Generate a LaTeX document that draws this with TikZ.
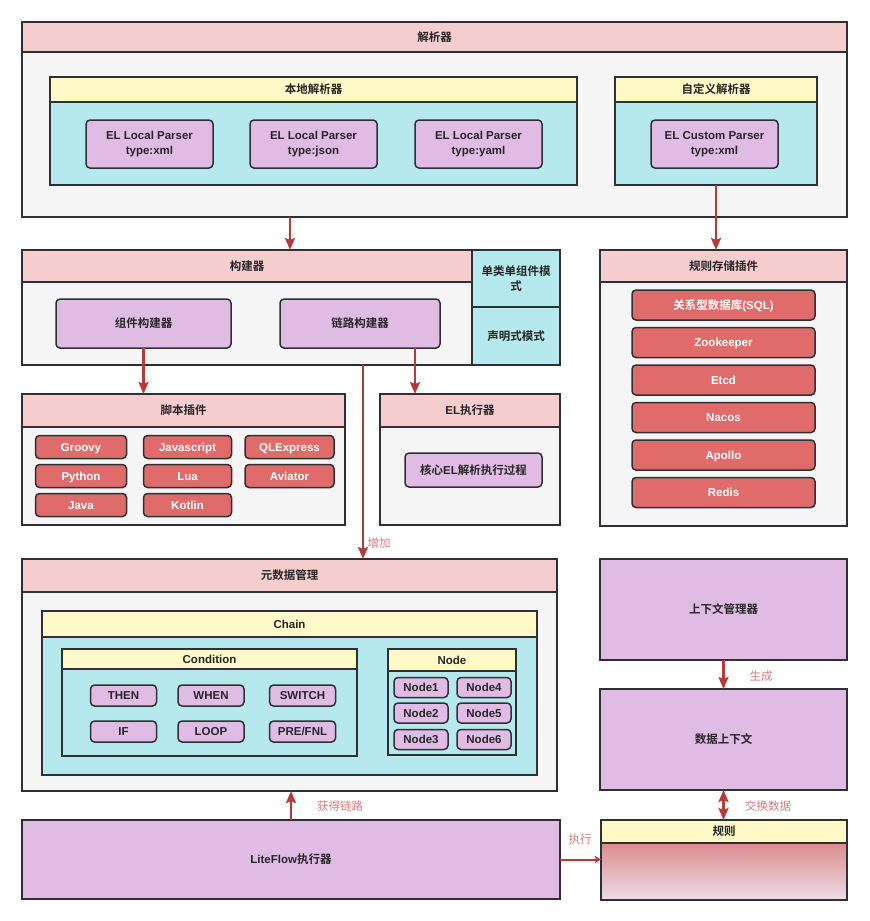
\documentclass[tikz,border=0pt]{standalone}
\usepackage{fontspec}
\setmainfont{Liberation Sans}
\newfontfamily\cjk{Noto Sans CJK SC}[BoldFont={Noto Sans CJK SC Bold}]
\newcommand\zh[1]{{\cjk #1}}
\usetikzlibrary{arrows.meta}

\definecolor{headpink}{HTML}{F6CDCF}
\definecolor{bodygrey}{HTML}{F5F5F5}
\definecolor{headyellow}{HTML}{FEF9C6}
\definecolor{bodycyan}{HTML}{B5E9EE}
\definecolor{boxpurple}{HTML}{E0BCE5}
\definecolor{btnred}{HTML}{E06B6B}
\definecolor{linegrey}{HTML}{2F3033}
\definecolor{arrowred}{HTML}{B63A3A}
\definecolor{labelred}{HTML}{D97A7A}
\definecolor{ruletop}{HTML}{DB8C8C}
\definecolor{rulebottom}{HTML}{EEDDEA}

\tikzset{
  base/.style={draw=linegrey, line width=1.5pt, inner sep=0pt, outer sep=0pt,
    align=center, text=black!85, font=\bfseries\fontsize{11.5}{14.5}\selectfont},
  header/.style={base, fill=headpink},
  panel/.style={base, fill=bodygrey},
  subhead/.style={base, fill=headyellow},
  subbody/.style={base, fill=bodycyan},
  part/.style={base, fill=boxpurple, rounded corners=4pt},
  plugin/.style={base, fill=btnred, text=white, rounded corners=4pt, text height=8.5pt, text depth=0pt},
  link/.style={draw=arrowred, line width=2.4pt, -{Stealth[length=12pt,width=10pt,inset=2pt]}},
  note/.style={text=labelred, font=\fontsize{11.5}{13}\selectfont}
}

\begin{document}
\begin{tikzpicture}[x=1pt, y=-1pt]
    \useasboundingbox (0,0) rectangle (870,921);

    % parser
    \node[panel, minimum width=825pt, minimum height=165pt] (parserbody) at (434.5,134.5) {};
    \node[header, minimum width=825pt, minimum height=30pt] (parserhead) at (434.5,37) {\zh{解析器}};
    \node[subbody, minimum width=527pt, minimum height=83pt] (localbody) at (313.5,143.5) {};
    \node[subhead, minimum width=527pt, minimum height=25pt] (localhead) at (313.5,89.5) {\zh{本地解析器}};
    \node[part, minimum width=127pt, minimum height=48pt] (localxml) at (149.5,144) {EL Local Parser\\type:xml};
    \node[part, minimum width=127pt, minimum height=48pt] (localjson) at (313.5,144) {EL Local Parser\\type:json};
    \node[part, minimum width=127pt, minimum height=48pt] (localyaml) at (478.5,144) {EL Local Parser\\type:yaml};
    \node[subbody, minimum width=202pt, minimum height=83pt] (custombody) at (716,143.5) {};
    \node[subhead, minimum width=202pt, minimum height=25pt] (customhead) at (716,89.5) {\zh{自定义解析器}};
    \node[part, minimum width=127pt, minimum height=48pt] (customxml) at (714.5,144) {EL Custom Parser\\type:xml};

    % builder
    \node[panel, minimum width=450pt, minimum height=83pt] (builderbody) at (247,323.5) {};
    \node[header, minimum width=450pt, minimum height=32pt] (builderhead) at (247,266) {\zh{构建器}};
    \node[subbody, minimum width=88pt, minimum height=57pt] (singlemode) at (516,278.5) {\zh{单类单组件模}\\\zh{式}};
    \node[subbody, minimum width=88pt, minimum height=58pt] (declmode) at (516,336) {\zh{声明式模式}};
    \node[part, minimum width=175pt, minimum height=49pt] (compbuilder) at (143.5,323.5) {\zh{组件构建器}};
    \node[part, minimum width=160pt, minimum height=49pt] (chainbuilder) at (360,323.5) {\zh{链路构建器}};

    % script plugins
    \node[panel, minimum width=323pt, minimum height=98pt] (scriptbody) at (183.5,476) {};
    \node[header, minimum width=323pt, minimum height=33pt] (scripthead) at (183.5,410.5) {\zh{脚本插件}};
    \node[plugin, minimum width=91pt, minimum height=23pt] (groovy) at (81,447) {Groovy};
    \node[plugin, minimum width=88pt, minimum height=23pt] (javascript) at (187.5,447) {Javascript};
    \node[plugin, minimum width=89pt, minimum height=23pt] (qlexpress) at (289.5,447) {QLExpress};
    \node[plugin, minimum width=91pt, minimum height=23pt] (python) at (81,476) {Python};
    \node[plugin, minimum width=88pt, minimum height=23pt] (lua) at (187.5,476) {Lua};
    \node[plugin, minimum width=89pt, minimum height=23pt] (aviator) at (289.5,476) {Aviator};
    \node[plugin, minimum width=91pt, minimum height=23pt] (java) at (81,505) {Java};
    \node[plugin, minimum width=88pt, minimum height=23pt] (kotlin) at (187.5,505) {Kotlin};

    % EL executor
    \node[panel, minimum width=180pt, minimum height=98pt] (elbody) at (470,476) {};
    \node[header, minimum width=180pt, minimum height=33pt] (elhead) at (470,410.5) {EL\zh{执行器}};
    \node[part, minimum width=137pt, minimum height=34pt] (elcore) at (473.5,470) {\zh{核心}EL\zh{解析执行过程}};

    % rule storage plugins
    \node[panel, minimum width=247pt, minimum height=244pt] (storebody) at (723.5,404) {};
    \node[header, minimum width=247pt, minimum height=32pt] (storehead) at (723.5,266) {\zh{规则存储插件}};
    \node[plugin, minimum width=183pt, minimum height=30pt] (sql) at (723.5,305) {\zh{关系型数据库}(SQL)};
    \node[plugin, minimum width=183pt, minimum height=30pt] (zookeeper) at (723.5,342.5) {Zookeeper};
    \node[plugin, minimum width=183pt, minimum height=30pt] (etcd) at (723.5,380) {Etcd};
    \node[plugin, minimum width=183pt, minimum height=30pt] (nacos) at (723.5,417.5) {Nacos};
    \node[plugin, minimum width=183pt, minimum height=30pt] (apollo) at (723.5,455) {Apollo};
    \node[plugin, minimum width=183pt, minimum height=30pt] (redis) at (723.5,492.5) {Redis};

    % metadata
    \node[panel, minimum width=535pt, minimum height=199pt] (metabody) at (289.5,691.5) {};
    \node[header, minimum width=535pt, minimum height=33pt] (metahead) at (289.5,575.5) {\zh{元数据管理}};
    \node[subbody, minimum width=495pt, minimum height=138pt] (chainbody) at (289.5,706) {};
    \node[subhead, minimum width=495pt, minimum height=26pt] (chainhead) at (289.5,624) {Chain};
    \node[subbody, minimum width=295pt, minimum height=87pt] (condbody) at (209.5,712.5) {};
    \node[subhead, minimum width=295pt, minimum height=20pt] (condhead) at (209.5,659) {Condition};
    \node[part, minimum width=66pt, minimum height=21pt] (then) at (123.5,695.5) {THEN};
    \node[part, minimum width=66pt, minimum height=21pt] (when) at (211,695.5) {WHEN};
    \node[part, minimum width=66pt, minimum height=21pt] (switch) at (302.5,695.5) {SWITCH};
    \node[part, minimum width=66pt, minimum height=21pt] (if) at (123.5,731.5) {IF};
    \node[part, minimum width=66pt, minimum height=21pt] (loop) at (211,731.5) {LOOP};
    \node[part, minimum width=66pt, minimum height=21pt] (prefnl) at (302.5,731.5) {PRE/FNL};
    \node[subbody, minimum width=128pt, minimum height=84pt] (nodebody) at (452,713) {};
    \node[subhead, minimum width=128pt, minimum height=22pt] (nodehead) at (452,660) {Node};
    \node[part, minimum width=54pt, minimum height=20pt] (node1) at (421,687.5) {Node1};
    \node[part, minimum width=54pt, minimum height=20pt] (node2) at (421,713) {Node2};
    \node[part, minimum width=54pt, minimum height=20pt] (node3) at (421,739.5) {Node3};
    \node[part, minimum width=54pt, minimum height=20pt] (node4) at (484,687.5) {Node4};
    \node[part, minimum width=54pt, minimum height=20pt] (node5) at (484,713) {Node5};
    \node[part, minimum width=54pt, minimum height=20pt] (node6) at (484,739.5) {Node6};

    % context
    \node[part, rounded corners=0pt, minimum width=247pt, minimum height=101pt] (ctxmgr) at (723.5,609.5) {\zh{上下文管理器}};
    \node[part, rounded corners=0pt, minimum width=247pt, minimum height=101pt] (datactx) at (723.5,739.5) {\zh{数据上下文}};

    % executor and rule
    \node[part, rounded corners=0pt, minimum width=538pt, minimum height=79pt] (liteflow) at (291,859.5) {LiteFlow\zh{执行器}};
    \node[base, top color=ruletop, middle color=rulebottom, bottom color=rulebottom,
          minimum width=246pt, minimum height=57pt] (rulebody) at (724,871.5) {};
    \node[subhead, minimum width=246pt, minimum height=23pt] (rulehead) at (724,831.5) {\zh{规则}};

    % connectors
    \draw[link] ([xshift=-144.5pt]parserbody.south) -- ([xshift=43pt]builderhead.north);
    \draw[link] (custombody.south) -- (custombody.south |- storehead.north);
    \draw[link] (compbuilder.south) -- (compbuilder.south |- scripthead.north);
    \draw[link] ([xshift=55pt]chainbuilder.south) -- ([xshift=-55pt]elhead.north);
    \draw[link] ([xshift=116pt]builderbody.south) -- ([xshift=73.5pt]metahead.north);
    \node[note] (addlabel) at (379,543) {\zh{增加}};
    \draw[link] (liteflow.north) -- (liteflow.north |- metabody.south);
    \node[note] (getlabel) at (340,806) {\zh{获得链路}};
    \draw[link] (ctxmgr.south) -- (datactx.north);
    \node[note] (genlabel) at (761,676) {\zh{生成}};
    \draw[link, {Stealth[length=12pt,width=10pt,inset=2pt]}-{Stealth[length=12pt,width=10pt,inset=2pt]}] (datactx.south) -- (datactx.south |- rulehead.north);
    \node[note] (swaplabel) at (768,806) {\zh{交换数据}};
    \draw[link, line width=2pt, -{Stealth[length=6pt,width=7pt,inset=1pt]}] (liteflow.east) -- (liteflow.east -| rulebody.west);
    \node[note] (runlabel) at (580,839) {\zh{执行}};
\end{tikzpicture}
\end{document}
